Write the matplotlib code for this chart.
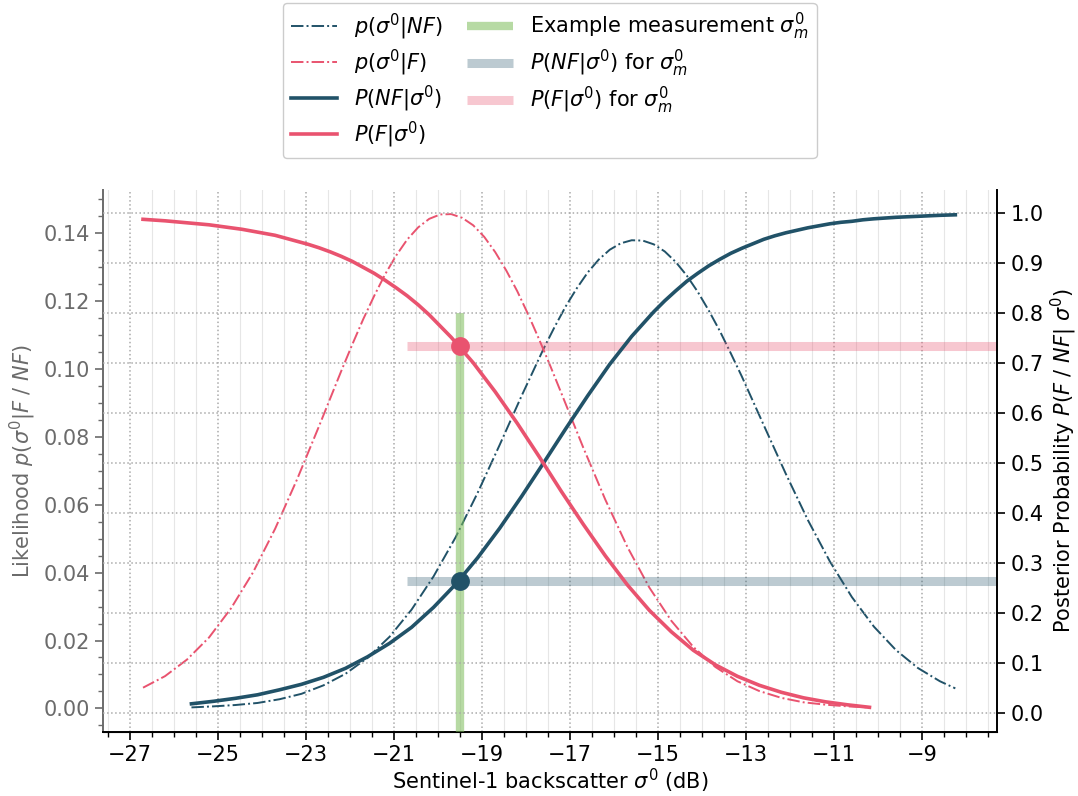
import numpy as np
import matplotlib
matplotlib.use("Agg")
import matplotlib.pyplot as plt
from matplotlib.ticker import MultipleLocator

# flooded (F) samples: likelihood curve (finer steps round the peak)
x_lik_F = [-26.7, -26.2, -25.7, -25.2, -24.7, -24.2, -23.7, -23.2, -22.7, -22.2, -21.95,
           -21.7, -21.45, -21.2, -20.95, -20.7, -20.45, -20.2, -19.95, -19.7, -19.45, -19.2,
           -18.95, -18.7, -18.45, -18.2, -17.95, -17.7, -17.45, -17.2, -16.7, -16.2, -15.7,
           -15.2, -14.7, -14.2, -13.7, -13.2, -12.7, -12.2, -11.7, -11.2, -10.7, -10.2]
lik_F = [0.0061, 0.0095, 0.0144, 0.0209, 0.0295, 0.0401, 0.0529, 0.0675, 0.0832, 0.0993,
         0.1071, 0.1146, 0.1215, 0.1279, 0.1334, 0.1381, 0.1417, 0.1442, 0.1455, 0.1456,
         0.1445, 0.1423, 0.1389, 0.1344, 0.1290, 0.1229, 0.1160, 0.1086, 0.1009, 0.0929,
         0.0768, 0.0615, 0.0476, 0.0356, 0.0258, 0.0181, 0.0122, 0.0080, 0.0051, 0.0031,
         0.0018, 0.0011, 0.0006, 0.0003]

# flooded posterior
x_F = [-26.7, -26.2, -25.7, -25.2, -24.7, -24.45, -24.2, -23.95, -23.7, -23.45, -23.2,
       -22.95, -22.7, -22.45, -22.2, -21.95, -21.7, -21.45, -21.2, -20.95, -20.7, -20.45,
       -20.2, -19.7, -19.2, -18.7, -18.2, -17.7, -17.2, -16.7, -16.2, -15.7, -15.2, -14.7,
       -14.2, -13.7, -13.2, -12.7, -12.2, -11.7, -11.2, -10.7, -10.2]
post_F = [0.988, 0.985, 0.981, 0.977, 0.971, 0.968, 0.964, 0.960, 0.956, 0.950, 0.944,
          0.938, 0.931, 0.923, 0.914, 0.904, 0.892, 0.880, 0.866, 0.851, 0.835, 0.817,
          0.797, 0.752, 0.701, 0.643, 0.580, 0.513, 0.444, 0.378, 0.315, 0.257, 0.206,
          0.163, 0.126, 0.097, 0.074, 0.056, 0.042, 0.031, 0.023, 0.017, 0.012]

# non-flooded (NF) samples: likelihood
x_lik_NF = [-25.6, -25.1, -24.6, -24.1, -23.6, -23.1, -22.6, -22.1, -21.6, -21.1, -20.6,
            -20.1, -19.6, -19.1, -18.6, -18.1, -17.6, -17.35, -17.1, -16.85, -16.6, -16.35,
            -16.1, -15.85, -15.6, -15.35, -15.1, -14.85, -14.6, -14.35, -14.1, -13.85,
            -13.6, -13.35, -13.1, -12.85, -12.6, -12.1, -11.6, -11.1, -10.6, -10.1, -9.6,
            -9.1, -8.6, -8.25]
lik_NF = [0.0003, 0.0006, 0.0010, 0.0016, 0.0027, 0.0043, 0.0068, 0.0102, 0.0149, 0.0211,
          0.0291, 0.0389, 0.0504, 0.0635, 0.0776, 0.0921, 0.1060, 0.1124, 0.1184, 0.1237,
          0.1284, 0.1322, 0.1351, 0.1370, 0.1379, 0.1378, 0.1367, 0.1346, 0.1315, 0.1275,
          0.1227, 0.1172, 0.1112, 0.1046, 0.0978, 0.0906, 0.0834, 0.0691, 0.0555, 0.0433,
          0.0328, 0.0241, 0.0172, 0.0119, 0.0080, 0.0059]

# non-flooded posterior
x_NF = [-25.6, -25.1, -24.6, -24.1, -23.6, -23.1, -22.6, -22.1, -21.6, -21.1, -20.6, -20.1,
        -19.6, -19.1, -18.6, -18.1, -17.6, -17.1, -16.6, -16.1, -15.6, -15.1, -14.85, -14.6,
        -14.35, -14.1, -13.85, -13.6, -13.35, -13.1, -12.85, -12.6, -12.35, -12.1, -11.85,
        -11.6, -11.35, -11.1, -10.85, -10.6, -10.35, -10.1, -9.6, -9.1, -8.6, -8.25]
post_NF = [0.019, 0.024, 0.030, 0.037, 0.047, 0.058, 0.072, 0.090, 0.113, 0.140, 0.172,
           0.212, 0.258, 0.311, 0.370, 0.434, 0.501, 0.569, 0.635, 0.698, 0.754, 0.803,
           0.825, 0.845, 0.864, 0.880, 0.895, 0.908, 0.920, 0.930, 0.939, 0.948, 0.955,
           0.961, 0.966, 0.971, 0.975, 0.979, 0.982, 0.984, 0.987, 0.989, 0.992, 0.994,
           0.996, 0.997]

# example measurement
sig_m = -19.5
P_F_m = 0.735
P_NF_m = 0.265
bar_start = -20.7
green_top = 0.8

blue = "#215268"
pink = "#e9536f"
green = "#7dbd5a"
grey = "#6b6b6b"

fig = plt.figure(figsize=(10.78, 7.96), dpi=100)
ax = fig.add_axes([0.0955, 0.0804, 0.8295, 0.6809])
ax2 = ax.twinx()

l1, = ax.plot(x_lik_NF, lik_NF, color=blue, lw=1.4, ls="-.", label=r"$p(\sigma^0|NF)$")
l2, = ax.plot(x_lik_F, lik_F, color=pink, lw=1.4, ls="-.", label=r"$p(\sigma^0|F)$")

xmax = -7.30
g, = ax2.plot([sig_m, sig_m], [-0.2, green_top], color=green, alpha=0.55, lw=6,
              solid_capstyle="butt", zorder=1, label=r"Example measurement $\sigma^0_m$")
hb, = ax2.plot([bar_start, xmax + 1], [P_NF_m, P_NF_m], color=blue, alpha=0.3, lw=6.5,
               solid_capstyle="butt", zorder=1, label=r"$P(NF|\sigma^0)$ for $\sigma^0_m$")
hp, = ax2.plot([bar_start, xmax + 1], [P_F_m, P_F_m], color=pink, alpha=0.32, lw=6.5,
               solid_capstyle="butt", zorder=1, label=r"$P(F|\sigma^0)$ for $\sigma^0_m$")
l3, = ax2.plot(x_NF, post_NF, color=blue, lw=2.6, label=r"$P(NF|\sigma^0)$", zorder=3)
l4, = ax2.plot(x_F, post_F, color=pink, lw=2.6, label=r"$P(F|\sigma^0)$", zorder=3)
ax2.plot([sig_m], [P_F_m], "o", color=pink, ms=12.5, zorder=4)
ax2.plot([sig_m], [P_NF_m], "o", color=blue, ms=12.5, zorder=4)

ax.set_xlim(-27.61, xmax)
ax.set_ylim(-0.00695, 0.1527)
ax2.set_ylim(-0.0374, 1.0466)

ax.set_xticks(np.arange(-27, -8, 2))
ax.xaxis.set_minor_locator(MultipleLocator(0.5))
ax.yaxis.set_minor_locator(MultipleLocator(0.005))
ax2.yaxis.set_major_locator(MultipleLocator(0.1))

ax.grid(which="major", axis="x", ls=":", color="#aaaaaa", lw=1.1)
ax.grid(which="minor", axis="x", ls="-", color="#e6e6e6", lw=0.8)
ax2.grid(which="major", axis="y", ls=":", color="#aaaaaa", lw=1.1)

for a in (ax, ax2):
    a.spines["top"].set_visible(False)
ax.spines["right"].set_visible(False)
ax2.spines["left"].set_visible(False)
ax.spines["left"].set_color(grey)
ax.spines["left"].set_linewidth(1.4)
ax.spines["bottom"].set_linewidth(1.4)
ax2.spines["right"].set_linewidth(1.4)

ax.tick_params(axis="y", which="both", colors=grey, labelsize=15)
ax.tick_params(axis="y", which="major", length=6, width=1.2)
ax.tick_params(axis="y", which="minor", length=3.5, width=1)
ax.tick_params(axis="x", which="major", length=6, width=1.2, labelsize=15)
ax.tick_params(axis="x", which="minor", length=3.5, width=1)
ax2.tick_params(axis="y", length=6, width=1.2, labelsize=15)

yt = np.arange(0, 0.15, 0.02)
ax.set_yticks(yt)
ax.set_yticklabels(["%.2f" % v for v in yt])

ax.set_xlabel(r"Sentinel-1 backscatter $\sigma^0$ (dB)", fontsize=15, labelpad=1)
ax.set_ylabel(r"Likelihood $p(\sigma^0|F\ /\ NF)$", color=grey, fontsize=15)
ax2.set_ylabel(r"Posterior Probability $P(F\ /\ NF|\ \sigma^0)$", fontsize=15)

handles = [l1, l2, l3, l4, g, hb, hp]
fig.legend(handles=handles, labels=[h.get_label() for h in handles], ncol=2,
           loc="upper center", bbox_to_anchor=(0.51, 0.999), fontsize=15,
           handlelength=2.2, labelspacing=0.28, columnspacing=1.2, borderaxespad=0.1,
           framealpha=1, edgecolor="#cccccc")

fig.savefig("out.png", dpi=100)
